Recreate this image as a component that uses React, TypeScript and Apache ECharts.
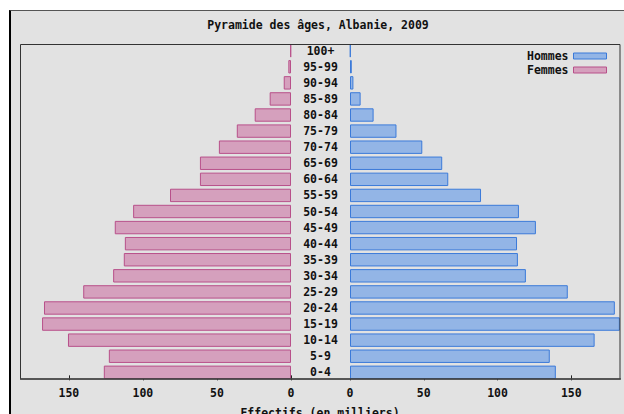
import React, { useEffect, useRef } from "react";
import * as echarts from "echarts";

const ageGroups = ["0-4", "5-9", "10-14", "15-19", "20-24", "25-29", "30-34", "35-39", "40-44", "45-49", "50-54", "55-59", "60-64", "65-69", "70-74", "75-79", "80-84", "85-89", "90-94", "95-99", "100+"];
const femmes = [126.4, 123, 150.6, 168.1, 166.8, 140.3, 120.1, 112.9, 112.2, 119, 106.6, 81.7, 61.5, 61.5, 48.7, 36.6, 24.5, 14.4, 4.9, 1.8, 0.4];
const hommes = [139.5, 135.4, 165.8, 182.9, 179.5, 147.6, 119.2, 113.8, 113.2, 126, 114.5, 88.8, 66.6, 62.5, 49, 31.5, 16, 7.2, 2.3, 1.2, 0.4];
const titleText = "Pyramide des âges, Albanie, 2009";
const axisTitle = "Effectifs (en milliers)";

const FONT = "DejaVu Sans Mono";
const PINK = "#d5a0bd";
const PINK_B = "#b8508a";
const BLUE = "#93b5e6";
const BLUE_B = "#3b7ad9";

export default function App() {
  const ref = useRef<HTMLDivElement>(null);
  useEffect(() => {
    if (!ref.current) return;
    const chart = echarts.init(ref.current, null, { renderer: "svg" });
    const txt = { fontFamily: FONT, fontWeight: "bold", fontSize: 11.5, color: "#111" };
    const gTop = 44 - 1.35;
    const gH = 335 + 2.7;
    chart.setOption({
      animation: false,
      title: {
        text: titleText,
        left: 318,
        top: 18.5,
        padding: 0,
        textAlign: "center",
        textStyle: { ...txt },
      },
      legend: {
        orient: "vertical",
        right: 17,
        top: 49,
        align: "right",
        padding: 0,
        itemGap: 0,
        itemWidth: 33,
        itemHeight: 6,
        icon: "rect",
        textStyle: { ...txt, lineHeight: 14 },
        data: [
          { name: "Hommes", itemStyle: { color: BLUE, borderColor: BLUE_B, borderWidth: 1 } },
          { name: "Femmes", itemStyle: { color: PINK, borderColor: PINK_B, borderWidth: 1 } },
        ],
      },
      grid: [
        { left: 20, top: gTop, width: 271, height: gH, outerBoundsMode: "none", containLabel: false },
        { left: 350, top: gTop, width: 270, height: gH, outerBoundsMode: "none", containLabel: false },
      ],
      xAxis: [
        {
          gridIndex: 0, type: "value", min: 0, max: 183, interval: 50, inverse: true,
          splitLine: { show: false }, axisLine: { show: false },
          axisTick: { show: true, inside: true, length: 5, lineStyle: { color: "#222" } },
          axisLabel: { ...txt, margin: 7, showMaxLabel: false },
        },
        {
          gridIndex: 1, type: "value", min: 0, max: 183, interval: 50,
          splitLine: { show: false }, axisLine: { show: false },
          axisTick: { show: true, inside: true, length: 5, lineStyle: { color: "#222" } },
          axisLabel: { ...txt, margin: 7, showMaxLabel: false },
        },
      ],
      yAxis: [
        {
          gridIndex: 0, type: "category", data: ageGroups,
          axisLine: { show: false }, axisTick: { show: false }, axisLabel: { show: false },
        },
        {
          gridIndex: 1, type: "category", data: ageGroups, position: "left",
          axisLine: { show: false }, axisTick: { show: false },
          axisLabel: { ...txt, align: "center", margin: 29.5, interval: 0 },
        },
      ],
      series: [
        {
          name: "Femmes", type: "bar", xAxisIndex: 0, yAxisIndex: 0, data: femmes, barWidth: 13.4,
          itemStyle: { color: PINK, borderColor: PINK_B, borderWidth: 1 },
        },
        {
          name: "Hommes", type: "bar", xAxisIndex: 1, yAxisIndex: 1, data: hommes, barWidth: 13.4,
          itemStyle: { color: BLUE, borderColor: BLUE_B, borderWidth: 1 },
        },
      ],
      graphic: [
        {
          type: "rect", z: 100, silent: true,
          shape: { x: 20.5, y: 44.5, width: 599.5, height: 334.5 },
          style: { fill: "none", stroke: "#333", lineWidth: 1 },
        },
        {
          type: "line", z: 101, silent: true,
          shape: { x1: 20, y1: 379, x2: 621, y2: 379 },
          style: { stroke: "#444", lineWidth: 1.5 },
        },
        {
          type: "text", x: 320, y: 407, silent: true,
          style: { text: axisTitle, textAlign: "center", textVerticalAlign: "top", font: `bold 11.5px "${FONT}"`, fill: "#111" },
        },
      ],
    });
    return () => chart.dispose();
  }, []);
  return (
    <div style={{ position: "fixed", left: 0, top: 0, width: 624, height: 414, background: "#fff", overflow: "hidden" }}>
      <div style={{ position: "absolute", left: 9, top: 10, width: 640, height: 420, background: "#e2e2e2", borderLeft: "2px solid #000", borderTop: "1px solid #555", boxSizing: "border-box" }} />
      <div ref={ref} style={{ position: "absolute", left: 0, top: 0, width: 624, height: 414 }} />
    </div>
  );
}
